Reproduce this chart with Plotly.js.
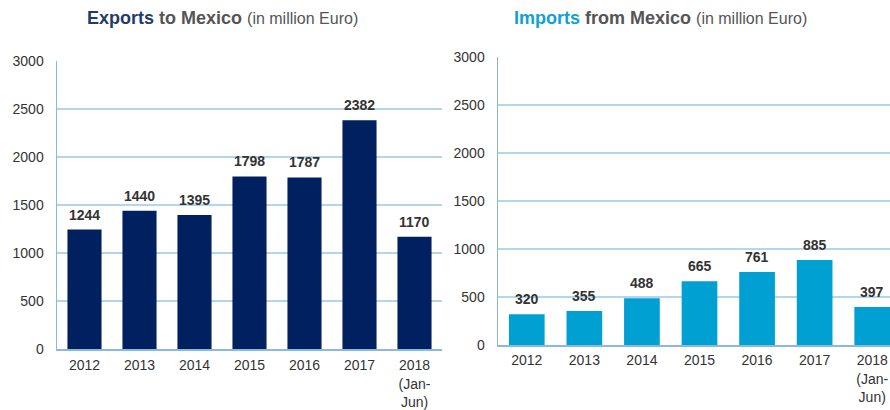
<!DOCTYPE html>
<html><head><meta charset="utf-8">
<script src="https://cdn.plot.ly/plotly-3.0.1.min.js"></script>
<style>html,body{margin:0;padding:0;overflow:hidden;background:#fff;width:890px;height:410px}#c{width:910px;height:410px}</style>
</head><body><div id="c"></div>
<script>
const categories = ['2012','2013','2014','2015','2016','2017','2018<br>(Jan-<br>Jun)'];
const exportsVals = [1244,1440,1395,1798,1787,2382,1170];
const importsVals = [320,355,488,665,761,885,397];
const yTicks = [0,500,1000,1500,2000,2500,3000];

const W = 910, H = 410;
const font = {family:'"Liberation Sans", Arial, sans-serif'};
const gridC = '#b3d5ee', axisC = '#8ab8e0';

function bar(vals, color, xa, ya){
  return {type:'bar', x:categories, y:vals, xaxis:xa, yaxis:ya,
    marker:{color:color}, hoverinfo:'skip'};
}
// value labels: x given as category index so the category axis is not confused
function labels(vals, xa, ya){
  return vals.map((v,i)=>({xref:xa, yref:ya, x:i, y:v, text:'<b>'+v+'</b>',
    showarrow:false, yanchor:'bottom', yshift:5,
    font:{family:font.family, size:14, color:'#333'}}));
}
function xax(d, so){return {domain:d, type:'category', categoryorder:'array', categoryarray:categories,
  range:[-0.5, categories.length-0.5], showgrid:false, showline:true, linecolor:axisC, linewidth:1.5,
  ticks:'', ticklabelstandoff:so, tickfont:{family:font.family,size:14,color:'#333'}, fixedrange:true, zeroline:false};}
function yax(d, anchor){return {domain:d, anchor:anchor, range:[0,3000], tickvals:yTicks, showgrid:true, gridcolor:gridC, gridwidth:1.3,
  showline:true, linecolor:axisC, linewidth:1.5, zeroline:false, ticks:'', ticklabelstandoff:9,
  tickfont:{family:font.family,size:14,color:'#333'}, fixedrange:true};}

const layout = {
  width:W, height:H, margin:{l:0,r:0,t:0,b:0}, showlegend:false, bargap:0.38,
  paper_bgcolor:'#fff', plot_bgcolor:'rgba(0,0,0,0)',
  xaxis: Object.assign(xax([57/W, 442/W], 3), {anchor:'y'}),
  yaxis: yax([61/H, 349/H], 'x'),
  xaxis2: Object.assign(xax([498/W, 901/W], 2), {anchor:'y2'}),
  yaxis2: yax([65/H, 353/H], 'x2'),
  annotations:[
    {xref:'paper', yref:'paper', x:222/W, y:1-18/H, xanchor:'center', yanchor:'middle', showarrow:false,
     text:'<b><span style="color:#1f3d6b">Exports</span> to Mexico</b> <span style="font-size:16px">(in million Euro)</span>',
     font:{family:font.family, size:18, color:'#555555'}},
    {xref:'paper', yref:'paper', x:660/W, y:1-18/H, xanchor:'center', yanchor:'middle', showarrow:false,
     text:'<b><span style="color:#12a0d7">Imports</span> from Mexico</b> <span style="font-size:16px">(in million Euro)</span>',
     font:{family:font.family, size:18, color:'#555555'}}
  ].concat(labels(exportsVals,'x','y'), labels(importsVals,'x2','y2'))
};
Plotly.newPlot('c', [bar(exportsVals,'#002060','x','y'), bar(importsVals,'#00a0d2','x2','y2')], layout, {staticPlot:true, displayModeBar:false});
</script></body></html>
